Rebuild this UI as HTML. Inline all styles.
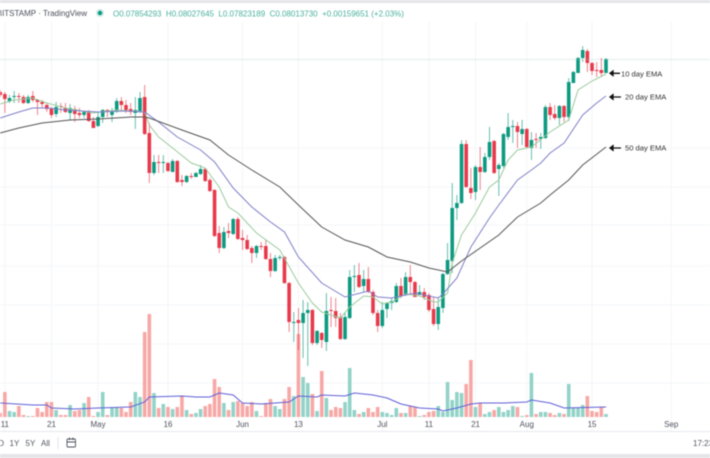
<!DOCTYPE html>
<html lang="en">
<head>
<meta charset="utf-8">
<title>BITSTAMP TradingView chart</title>
<style>
  html, body { margin: 0; padding: 0; background: #fff; }
  body { width: 710px; height: 458px; overflow: hidden; }
  svg { display: block; font-family: "Liberation Sans", sans-serif; filter: blur(0.45px); }
</style>
</head>
<body>
<svg id="chart" xmlns="http://www.w3.org/2000/svg" width="710" height="458" viewBox="0 0 710 458">
  <rect x="0" y="0" width="710" height="458" fill="#ffffff"/>
  <g id="grid"></g>
  <g id="volume"></g>
  <g id="candles"></g>
  <g id="emas"></g>
  <line x1="0" y1="59.5" x2="710" y2="59.5" stroke="#8fd0c4" stroke-width="0.8" stroke-dasharray="1 1" opacity="0.8"/>
  <g id="xaxis"></g>

  <rect x="0" y="0" width="710" height="3" fill="#e4e5e8"/>
  <g font-size="8">
    <text x="87" y="16" text-anchor="end" fill="#4a4e5a">BITSTAMP · TradingView</text>
    <circle cx="100" cy="13" r="4" fill="#cdeae5"/>
    <circle cx="100" cy="13" r="2.2" fill="#089981"/>
    <text x="113" y="16.5" fill="#1a9c86" fill-opacity="0.8" xml:space="preserve">O0.07854293  H0.08027645  L0.07823189  C0.08013730  +0.00159651 (+2.03%)</text>
  </g>

  <g font-size="7.6" fill="#333333">
    <g>
      <path d="M620 73.3H613M613 71L610 73.3L613 75.6Z" stroke="#111" stroke-width="1.3" fill="#111"/>
      <text x="621" y="76.5">10 day EMA</text>
    </g>
    <g>
      <path d="M621 97H613M613 94.7L610 97L613 99.3Z" stroke="#111" stroke-width="1.3" fill="#111"/>
      <text x="625" y="99.5">20 day EMA</text>
    </g>
    <g>
      <path d="M621 148H613M613 145.7L610 148L613 150.3Z" stroke="#111" stroke-width="1.3" fill="#111"/>
      <text x="625" y="150.5">50 day EMA</text>
    </g>
  </g>

  <line x1="0" y1="431.5" x2="710" y2="431.5" stroke="#e6e8ee" stroke-width="1"/>
  <g font-size="8" fill="#50535e">
    <text x="4" y="446" text-anchor="end">YTD</text>
    <text x="9.5" y="446">1Y</text>
    <text x="25.5" y="446">5Y</text>
    <text x="41" y="446">All</text>
    <line x1="58" y1="437" x2="58" y2="449" stroke="#e0e3eb"/>
    <g fill="none" stroke="#50535e" stroke-width="0.9">
      <rect x="67" y="439" width="8.5" height="8" rx="1"/>
      <path d="M67 442H75.5M69.5 437.5V440M73 437.5V440"/>
    </g>
    <text x="693" y="446">17:23</text>
  </g>
  <rect x="0" y="454" width="710" height="4" fill="#e4e5e8"/>
</svg>

<script>
// Prices are in units of 0.0001 BTC; volume is in arbitrary units.
const openPrices = [769,767,760,764,765,764,758,765,761,759,756,753,747,755,753,748,752,748,746,749,740,735,744,751,746,750,760,756,752,748,750,764,728,688,699,698,698,689,700,681,679,685,684,687,692,681,671,628,613,630,627,642,623,621,613,608,615,615,602,590,603,604,578,538,541,538,548,551,518,528,519,551,550,544,522,543,584,586,575,582,569,548,535,552,558,559,575,566,584,579,566,569,566,552,537,553,587,600,653,658,717,673,669,694,689,704,720,692,695,724,734,735,727,732,713,722,722,723,754,747,743,755,744,778,788,803,810,798,791,791,788];
const closePrices = [766,762,763,765,764,758,764,761,759,757,752,746,754,754,749,753,747,746,749,740,733,744,751,749,750,760,756,751,749,751,763,727,688,699,698,699,690,700,679,679,685,684,688,692,680,670,625,613,629,628,642,622,621,612,608,615,614,602,590,603,604,578,539,539,538,548,551,518,530,521,550,550,543,522,544,584,585,574,582,569,548,535,551,558,560,575,565,584,579,564,569,564,551,537,554,587,601,653,658,717,674,668,694,689,704,719,688,696,727,734,735,729,732,714,721,721,724,754,746,743,755,744,779,789,803,811,798,790,790,788,802];
const highPrices = [771,769,766,770,768,766,766,770,762,761,758,754,759,758,758,757,755,753,750,751,744,748,752,752,753,763,764,761,758,764,769,776,738,706,706,706,699,702,701,686,686,688,689,696,693,683,672,635,634,638,643,644,631,626,615,616,619,621,608,606,606,605,579,549,553,561,559,552,531,529,568,564,563,548,548,591,596,598,591,594,571,551,559,559,563,578,583,589,596,580,576,573,568,564,564,588,618,678,666,721,721,693,696,714,708,734,721,698,728,748,741,739,741,733,729,728,728,756,758,756,756,756,783,790,804,815,812,799,799,803,803];
const lowPrices = [764,748,758,758,758,757,757,759,746,753,749,743,744,748,748,741,739,743,743,739,733,734,738,744,739,748,750,748,746,732,748,726,678,686,688,688,689,689,678,675,678,682,684,686,679,669,624,608,612,623,626,621,611,611,598,603,611,601,584,589,601,577,529,519,511,503,495,516,516,513,510,534,534,521,521,542,569,573,569,568,546,529,533,543,551,558,563,565,566,564,566,561,549,535,531,548,586,588,641,657,673,662,661,671,688,701,687,665,693,721,718,713,716,713,701,713,712,722,741,741,736,739,740,778,788,799,789,786,784,784,788];
const volumes = [4,25,6,5,11,2,1,1,9,5,15,15,7,2,2,12,6,7,14,20,1,5,25,2,9,10,9,5,15,25,20,85,103,24,9,13,10,8,10,21,7,3,4,8,11,13,38,30,14,7,15,16,14,11,15,6,1,14,18,11,8,18,30,21,83,40,34,23,6,46,19,7,10,9,15,49,7,3,5,9,5,10,5,4,2,9,4,4,11,10,1,2,5,6,11,5,35,17,25,24,33,57,10,14,3,5,7,10,5,7,11,10,1,2,44,3,5,5,4,2,4,3,33,9,9,12,21,6,5,10,3];

const ema10Days = [0,3,7,10,14,20,25,31,32,34,37,41,44,47,49,51,55,60,64,67,69,73,75,78,80,82,84,87,90,93,94,96,97,99,102,105,107,109,111,114,118,122,124,127,130];
const ema10Values = [757,761,763,758,753,748,751,749,736,724,713,698,693,674,654,648,628,611,578,558,549,543,554,565,564,557,559,567,565,559,559,568,598,626,648,674,681,701,711,714,729,741,771,780,787];
const ema20Days = [0,4,7,10,14,21,27,31,34,38,43,46,50,54,58,61,64,69,74,79,81,84,89,94,95,98,101,105,107,111,114,116,118,121,125,128,130];
const ema20Values = [743,749,753,753,751,749,750,749,739,724,711,699,673,654,639,629,604,578,564,570,564,563,568,563,567,583,614,643,656,681,691,698,708,718,746,758,765];
const ema50Days = [0,4,9,15,21,28,31,32,39,45,49,54,60,64,69,74,79,83,88,92,96,99,107,111,116,118,122,125,130];
const ema50Values = [728,733,738,741,742,744,744,743,731,721,706,691,674,656,634,621,614,604,599,593,589,600,626,644,658,666,681,696,714];
const volumeMaDays = [0,7,10,11,16,21,28,31,32,39,42,45,47,50,52,56,62,64,68,69,74,76,80,83,86,90,94,95,98,101,103,108,113,114,118,121,130];
const volumeMaValues = [14,12,12,9,8,9,10,15,20,21,20,20,24,22,14,13,15,21,20,22,21,24,22,19,13,9,8,6,9,13,14,14,15,17,14,9,10];

const tickDays = [1,11,21,36,52,64,82,92,102,113,127,144];
const tickLabels = ["11","21","May","16","Jun","13","Jul","11","21","Aug","15","Sep"];
const priceGridLevels = [713,674,636,595,556,517,478];

// Axis functions
const DAY_WIDTH = 4.66;
const FIRST_X = 0.2;
const PRICE_ZERO_Y = 861;
const VOLUME_BASE_Y = 417;
const xScale = function (day) { return FIRST_X + DAY_WIDTH * day; };
const yPrice = function (price) { return PRICE_ZERO_Y - price; };
const yVolume = function (volume) { return VOLUME_BASE_Y - volume; };

const NS = "http://www.w3.org/2000/svg";
function make(tag, attrs, parent) {
  const el = document.createElementNS(NS, tag);
  for (const key in attrs) { el.setAttribute(key, attrs[key]); }
  parent.appendChild(el);
  return el;
}

const gridGroup = document.getElementById("grid");
const volumeGroup = document.getElementById("volume");
const candleGroup = document.getElementById("candles");
const emaGroup = document.getElementById("emas");
const axisGroup = document.getElementById("xaxis");

const GREEN = "#0c9a80";
const RED = "#e8394b";

tickDays.forEach(function (day, idx) {
  const x = xScale(day);
  const gridLine = make("line", { x1: x, y1: 22, x2: x, y2: 431, stroke: "#f4f5f7", "stroke-width": 1 }, gridGroup);
  
  
  const label = make("text", { x: x, y: 427, "text-anchor": "middle", "font-size": 8, fill: "#50535e" }, axisGroup);
  
  
  label.textContent = tickLabels[idx];
});

priceGridLevels.forEach(function (level) {
  const y = yPrice(level);
  const gridLine = make("line", { x1: 0, y1: y, x2: 710, y2: y, stroke: "#f5f6f8", "stroke-width": 1 }, gridGroup);
  
  
});

volumes.forEach(function (volume, day) {
  const up = closePrices[day] >= openPrices[day];
  const top = yVolume(volume);
  const bar = make("rect", { x: xScale(day) - 1.8, y: top, width: 3.6, height: VOLUME_BASE_Y - top, fill: up ? "#92d3c8" : "#f7a8a6" }, volumeGroup);
  
  
});

function linePath(days, values, yFn) {
  return days.map(function (day, idx) {
    return (idx ? "L" : "M") + xScale(day).toFixed(1) + " " + yFn(values[idx]).toFixed(1);
  }).join("");
}

openPrices.forEach(function (open, day) {
  const close = closePrices[day];
  const up = close >= open;
  const color = up ? GREEN : RED;
  const x = xScale(day);
  const wick = make("line", { x1: x, y1: yPrice(highPrices[day]), x2: x, y2: yPrice(lowPrices[day]), stroke: color, "stroke-width": 0.9, opacity: 0.7 }, candleGroup);
  
  
  const top = yPrice(Math.max(open, close));
  const bottom = yPrice(Math.min(open, close));
  const body = make("rect", { x: x - 1.8, y: top, width: 3.6, height: Math.max(bottom - top, 1), fill: color }, candleGroup);
  
  
});

const ema10Line = make("path", { d: linePath(ema10Days, ema10Values, yPrice), fill: "none", stroke: "#9ccb9e", "stroke-width": 1 }, emaGroup);



const ema20Line = make("path", { d: linePath(ema20Days, ema20Values, yPrice), fill: "none", stroke: "#7f7fc9", "stroke-width": 1 }, emaGroup);



const ema50Line = make("path", { d: linePath(ema50Days, ema50Values, yPrice), fill: "none", stroke: "#555555", "stroke-width": 1 }, emaGroup);



const volumeMaLine = make("path", { d: linePath(volumeMaDays, volumeMaValues, yVolume), fill: "none", stroke: "#5f5fd8", "stroke-width": 1 }, volumeGroup);


</script>
</body>
</html>
